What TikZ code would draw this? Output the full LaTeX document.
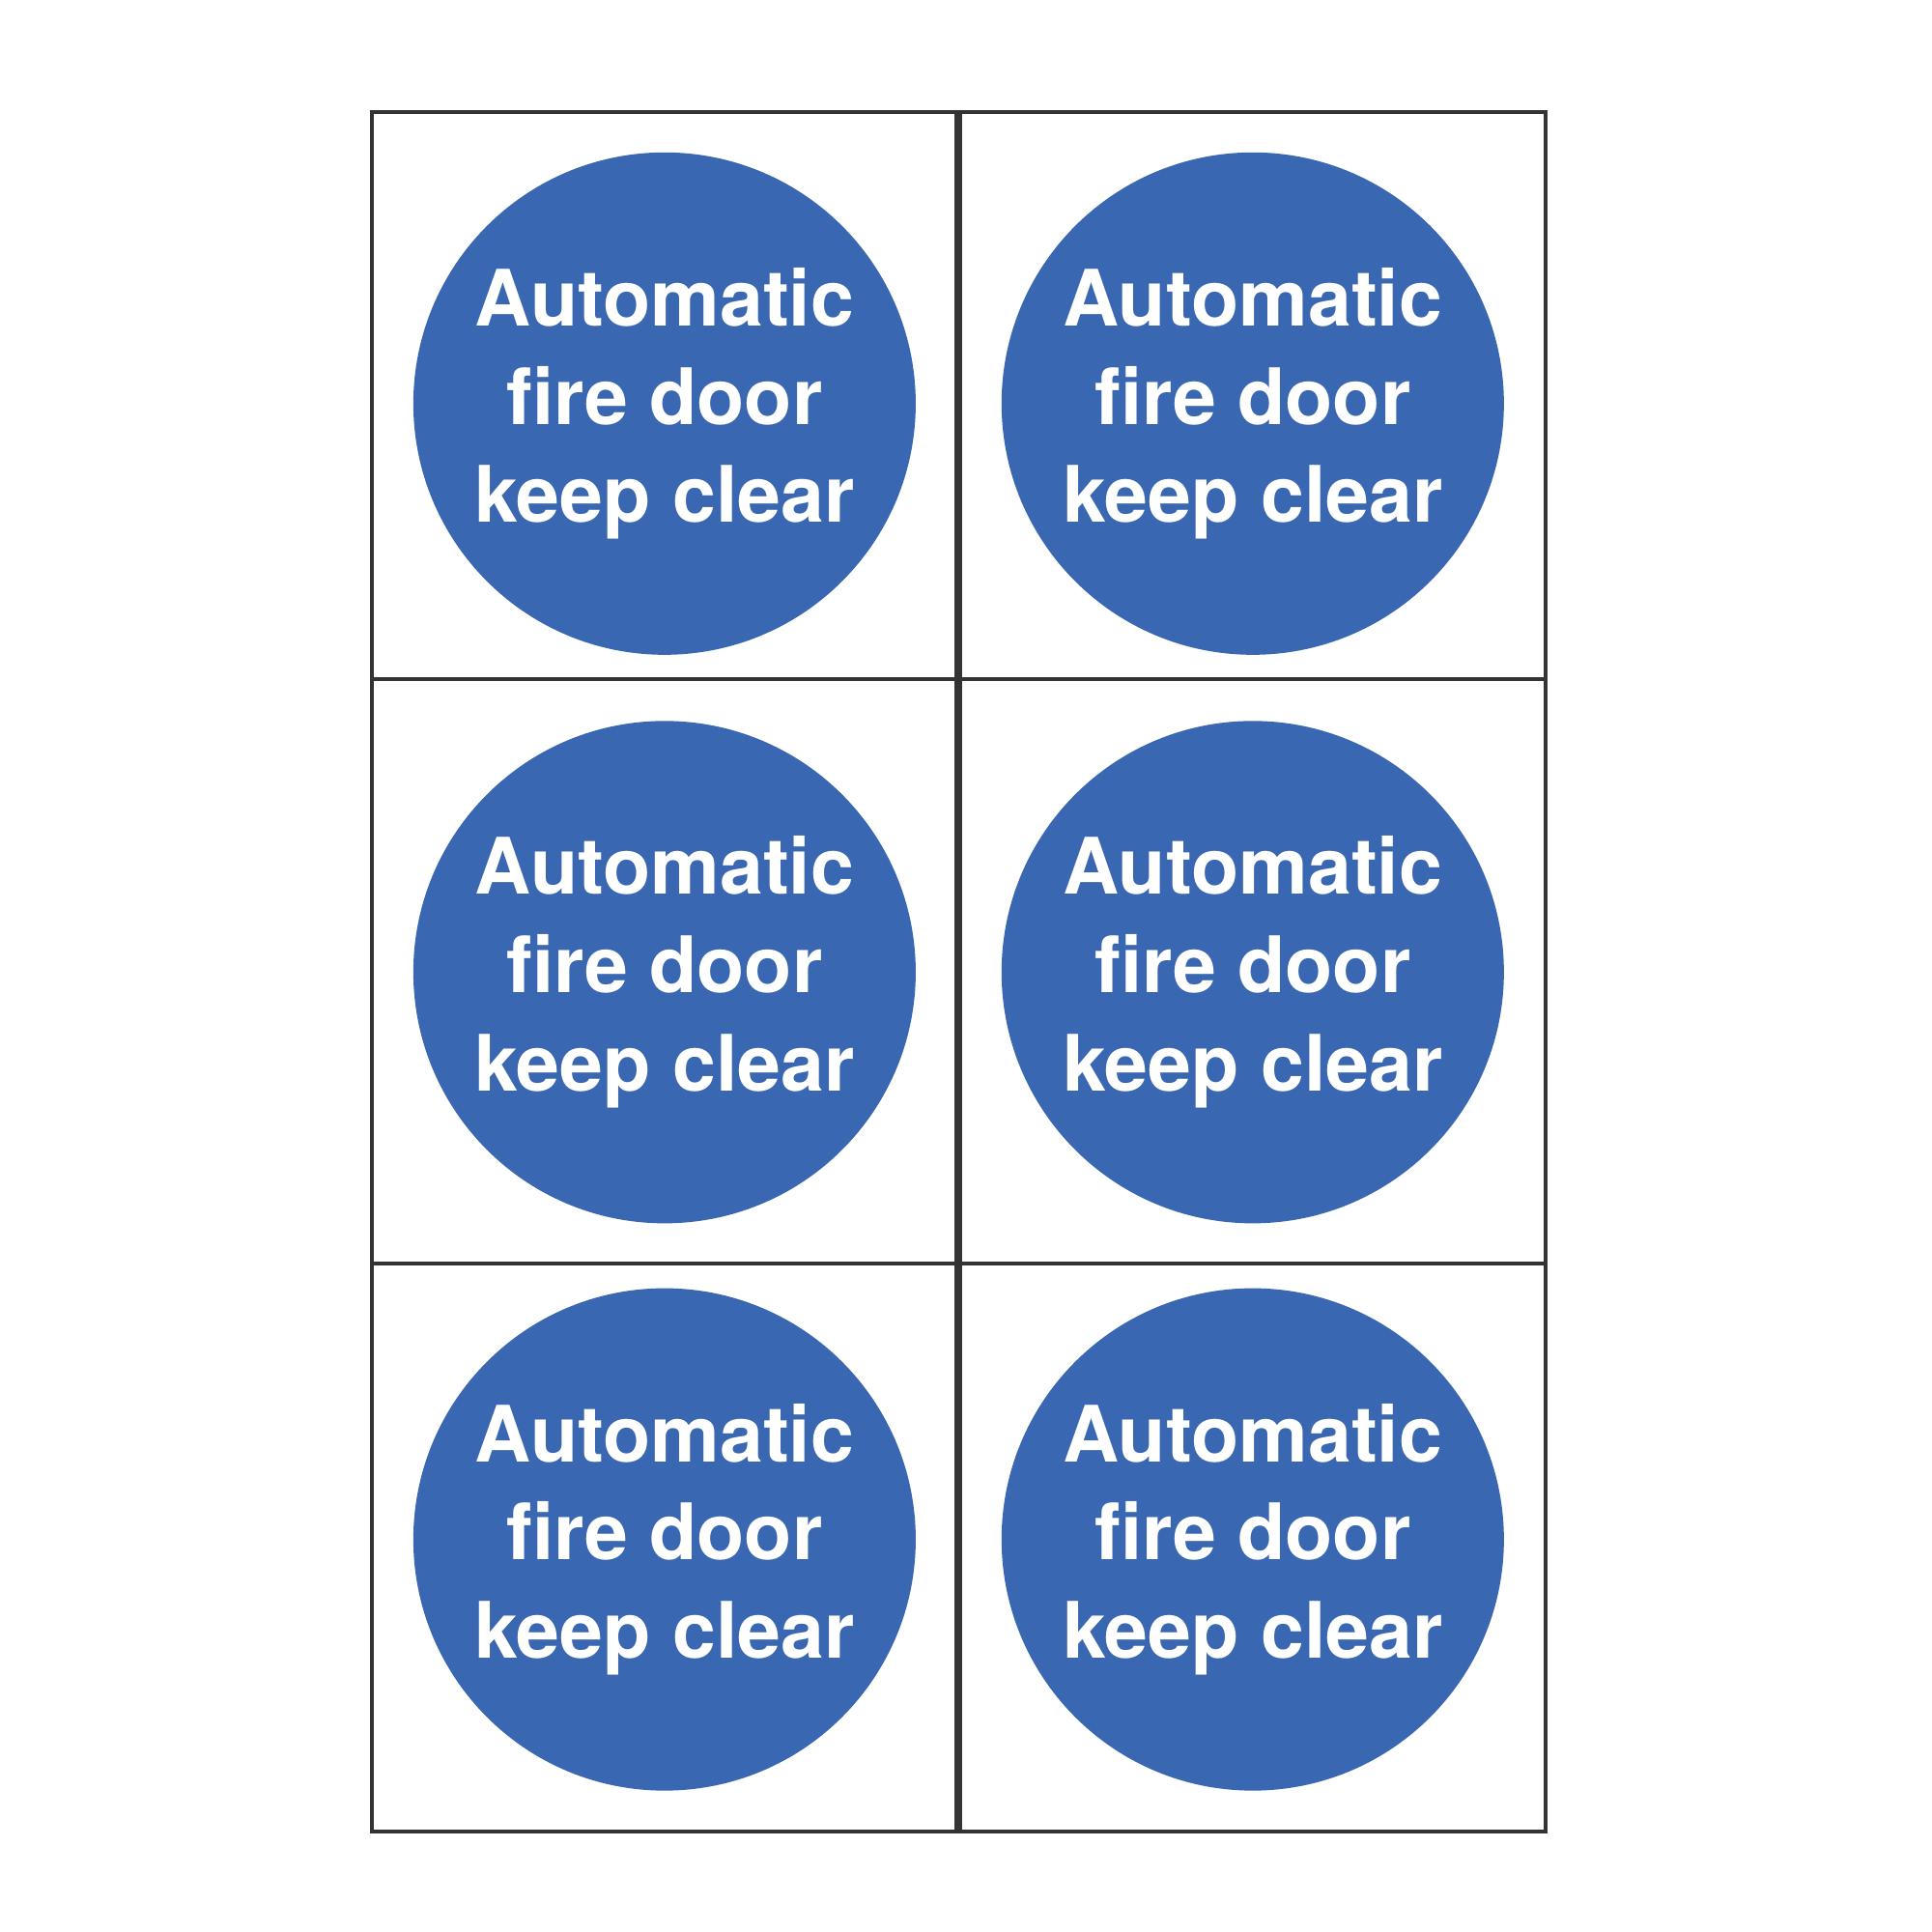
\documentclass[tikz,border=0pt]{standalone}
\usepackage{fontspec}
\setmainfont{TeX Gyre Heros}
\definecolor{signblue}{HTML}{3A67B1}
\tikzset{
sheet/.style={draw=black!80, line width=0.9pt},
sign/.style={circle, fill=signblue, minimum size=4.08cm, inner sep=0pt, text=white,
  align=center, font=\fontsize{18}{22.7}\selectfont\bfseries},
}

\begin{document}
\begin{tikzpicture}[x=0.01cm, y=0.01cm]
    \useasboundingbox (0,0) rectangle (1570,1570);
    % two columns of label sheets
    \draw[sheet] (302,82) rectangle (777,1479);
    \draw[sheet] (780,82) rectangle (1256,1479);
    \draw[sheet] (302,1018) -- (1256,1018);
    \draw[sheet] (302,543) -- (1256,543);
    % signs
    \foreach \col/\x in {l/540, r/1018} {
        \foreach \row/\y in {1/1242, 2/780, 3/319} {
            \node[sign] (s\row\col) at (\x,\y) {Automatic\\fire door\\keep clear};
        }
    }
\end{tikzpicture}
\end{document}
